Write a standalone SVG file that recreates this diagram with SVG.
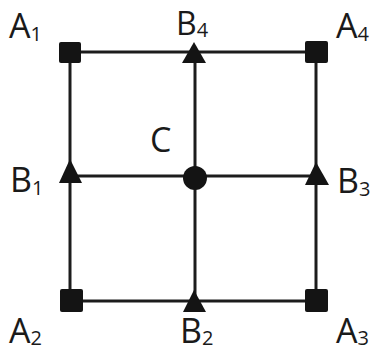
<svg xmlns="http://www.w3.org/2000/svg" width="382" height="353" viewBox="0 0 382 353">
<style>
.ln{stroke:#1c1c1c;stroke-width:3;fill:none}
.mk{fill:#141414}
.lb{font-family:"Open Sans","Liberation Sans",sans-serif;font-size:34px;fill:#1a1a1a}
.sb{font-size:20px}
</style>
<rect width="382" height="353" fill="#fff"/>
<g id="connectors">
<line class="ln" x1="70" y1="52" x2="316" y2="52"/>
<line class="ln" x1="70" y1="176" x2="316" y2="176"/>
<line class="ln" x1="70" y1="301" x2="316" y2="301"/>
<line class="ln" x1="70" y1="52" x2="70" y2="301"/>
<line class="ln" x1="195" y1="52" x2="195" y2="301"/>
<line class="ln" x1="316" y1="52" x2="316" y2="301"/>
</g>
<g id="A1"><rect class="mk" x="59" y="42" width="22" height="21" rx="2"/><text class="lb" x="9" y="38">A<tspan class="sb" dy="3">1</tspan></text></g>
<g id="B4"><polygon class="mk" points="194,42 182,63 206,63"/><text class="lb" x="176" y="35" style="font-size:32px">B<tspan class="sb" dy="2">4</tspan></text></g>
<g id="A4"><rect class="mk" x="305" y="41" width="23" height="22" rx="2"/><text class="lb" x="336" y="38">A<tspan class="sb" dy="3">4</tspan></text></g>
<g id="B1"><polygon class="mk" points="70,159 59,183 82,183"/><text class="lb" x="10" y="192">B<tspan class="sb" dy="3">1</tspan></text></g>
<g id="C"><circle class="mk" cx="195" cy="178" r="12"/><text class="lb" x="150" y="152">C</text></g>
<g id="B3"><polygon class="mk" points="316,162 305,185 329,185"/><text class="lb" x="337" y="193">B<tspan class="sb" dy="3">3</tspan></text></g>
<g id="A2"><rect class="mk" x="60" y="289" width="23" height="23" rx="2"/><text class="lb" x="9" y="343">A<tspan class="sb" dy="2">2</tspan></text></g>
<g id="B2"><polygon class="mk" points="194,290 183,312 206,312"/><text class="lb" x="180" y="343">B<tspan class="sb" dy="2">2</tspan></text></g>
<g id="A3"><rect class="mk" x="305" y="289" width="23" height="23" rx="2"/><text class="lb" x="336" y="343">A<tspan class="sb" dy="2">3</tspan></text></g>
</svg>
